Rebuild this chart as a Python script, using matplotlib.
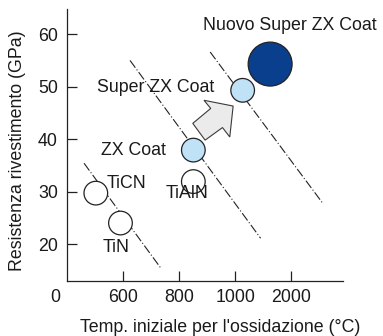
import matplotlib
matplotlib.use("Agg")
import matplotlib.pyplot as plt
from matplotlib.patches import Polygon
import matplotlib.transforms as mtransforms

plt.rcParams['font.family'] = ['Liberation Sans', 'DejaVu Sans']
plt.rcParams['lines.scale_dashes'] = False

# x axis is not linear: the labelled temperatures sit at equal steps
temp_labels = ['600', '800', '1000', '2000']
temp_pos = [1, 2, 3, 4]
y_ticks = [20, 30, 40, 50, 60]

# coatings (x in axis steps, y in GPa)
coat_names = ['TiCN', 'TiN', 'TiAlN', 'ZX Coat', 'Super ZX Coat', 'Nuovo Super ZX Coat']
coat_x = [0.51, 0.95, 2.25, 2.25, 3.13, 3.62]
coat_y = [29.7, 24.0, 31.9, 37.9, 49.3, 54.3]
coat_size = [290, 290, 290, 290, 290, 1000]
coat_color = ['white', 'white', 'white', '#bfe2f7', '#bfe2f7', '#0a3f8e']

# label anchor points (baseline) for each coating name
label_x = [1.05, 0.87, 2.14, 1.19, 1.57, 3.97]
label_y = [30.6, 18.5, 28.7, 36.95, 48.9, 60.8]

# dash-dot guide lines (start/end)
guide_x = [[0.30, 1.67], [1.12, 3.45], [2.55, 4.57]]
guide_y = [[35.4, 15.4], [55.0, 21.1], [56.6, 27.6]]

# improvement arrow outline
arrow_x = [2.96, 2.44, 2.56, 2.24, 2.46, 2.77, 2.90]
arrow_y = [46.3, 47.4, 45.85, 43.0, 39.8, 42.2, 40.4]

txt = '#1a1a1a'
fs = 12.8
fig = plt.figure(figsize=(3.83, 3.36), dpi=100)
ax = fig.add_axes([67 / 383, 55 / 336, 276 / 383, 272 / 336])

for gx, gy in zip(guide_x, guide_y):
    ax.plot(gx, gy, color='#222222', lw=0.8, dashes=(6.5, 1.6, 0.8, 1.6), zorder=1)

ax.add_patch(Polygon(list(zip(arrow_x, arrow_y)), closed=True, facecolor='#ebebeb',
                     edgecolor='#3a3a3a', lw=0.8, zorder=2))

ax.scatter(coat_x, coat_y, s=coat_size, c=coat_color, edgecolors='#222222',
           linewidths=0.9, zorder=3)

for name, lx, ly in zip(coat_names, label_x, label_y):
    ax.text(lx, ly, name, ha='center', va='baseline', fontsize=fs, color=txt)

ax.set_xlim(-0.004, 4.92)
ax.set_ylim(12.95, 64.8)
ax.set_xticks(temp_pos)
ax.set_xticklabels(temp_labels)
ax.set_yticks(y_ticks)
ax.tick_params(direction='in', length=7.5, width=0.9, labelsize=fs,
               labelcolor=txt, color='#222222')
ax.tick_params(axis='x', pad=6)
ax.tick_params(axis='y', pad=6.5)

# the "0" label sits left of the vertical axis
trans = mtransforms.blended_transform_factory(ax.transData, ax.transAxes)
ax.annotate('0', xy=(-0.217, 0), xycoords=trans, xytext=(0, -6),
            textcoords='offset points', ha='center', va='top',
            fontsize=fs, color=txt, annotation_clip=False)

for side in ['top', 'right']:
    ax.spines[side].set_visible(False)
for side in ['left', 'bottom']:
    ax.spines[side].set_linewidth(0.9)
    ax.spines[side].set_color('#222222')

ax.set_xlabel("Temp. iniziale per l'ossidazione (°C)", fontsize=fs, color=txt)
ax.set_ylabel('Resistenza rivestimento (GPa)', fontsize=fs, color=txt)
ax.xaxis.set_label_coords(0.555, -0.14)
ax.yaxis.set_label_coords(-0.15, 0.478)

fig.savefig('out.png', dpi=100)
